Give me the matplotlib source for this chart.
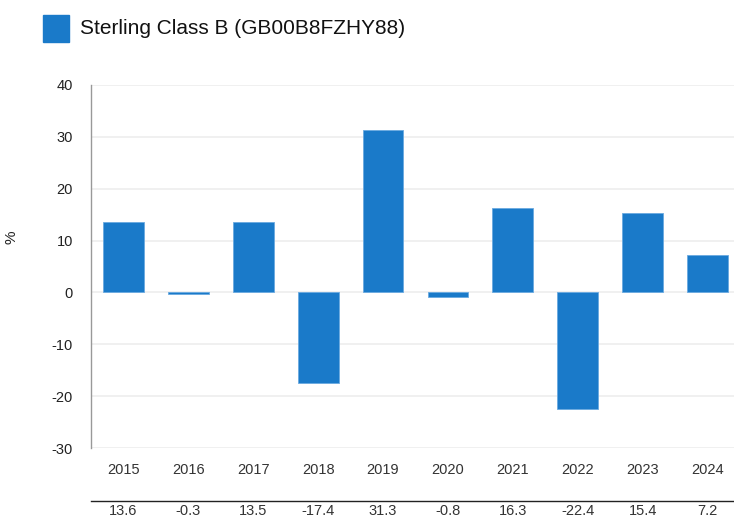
import matplotlib
matplotlib.use("Agg")
import matplotlib.pyplot as plt
from matplotlib.transforms import blended_transform_factory
from matplotlib.patches import Rectangle

years = ["2015", "2016", "2017", "2018", "2019", "2020", "2021", "2022", "2023", "2024"]
values = [13.6, -0.3, 13.5, -17.4, 31.3, -0.8, 16.3, -22.4, 15.4, 7.2]
value_labels = ["13.6", "-0.3", "13.5", "-17.4", "31.3", "-0.8", "16.3", "-22.4", "15.4", "7.2"]
series_name = "Sterling Class B (GB00B8FZHY88)"
yticks = [-30, -20, -10, 0, 10, 20, 30, 40]

plt.rcParams['font.family'] = ['Liberation Sans', 'DejaVu Sans']
W, H = 734, 521
fig = plt.figure(figsize=(W / 100, H / 100), dpi=100)
ax = fig.add_axes([91 / W, 1 - 448 / H, (734 - 91) / W, (448 - 85) / H])

blue = "#1a7ac9"
x = list(range(len(years)))
ax.bar(x, values, width=0.63, color=blue, edgecolor="#6aaae0", linewidth=0.6, zorder=3)

ax.set_ylim(-30, 40)
ax.set_xlim(-0.5, -0.5 + (734 - 91) / 64.9)
ax.set_yticks(yticks)
ax.set_yticklabels([str(t) for t in yticks], fontsize=10.5, color="#222222")
ax.set_xticks(x)
ax.set_xticklabels(years, fontsize=10.5, color="#333333")
ax.tick_params(axis='y', length=0, pad=13)
ax.tick_params(axis='x', length=0, pad=11)
ax.grid(axis='y', color="#eeeeee", linewidth=1.2, zorder=0)
for s in ["top", "right", "bottom"]:
    ax.spines[s].set_visible(False)
ax.spines["left"].set_color("#999999")
ax.spines["left"].set_linewidth(1.0)
ax.set_ylabel("%", fontsize=11, color="#222222", labelpad=2)
ax.yaxis.set_label_coords(-(91 - 18) / (734 - 91), (448 - 237) / (448 - 85))

# table row below chart
tr = blended_transform_factory(ax.transData, fig.transFigure)
fig.add_artist(plt.Line2D([91 / W, 1.0], [1 - 501 / H, 1 - 501 / H], color="#222222", linewidth=1.0, transform=fig.transFigure))
for xi, lab in zip(x, value_labels):
    fig.text(xi, 1 - 511 / H, lab, transform=tr, ha="center", va="center", fontsize=10.5, color="#333333")

# legend
fig.add_artist(Rectangle((43 / W, 1 - 42 / H), 26 / W, 27 / H, transform=fig.transFigure, color=blue))
fig.text(80 / W, 1 - 29 / H, series_name, fontsize=15, va="center", ha="left", color="#111111")

fig.savefig("out.png", dpi=100, facecolor="white")
